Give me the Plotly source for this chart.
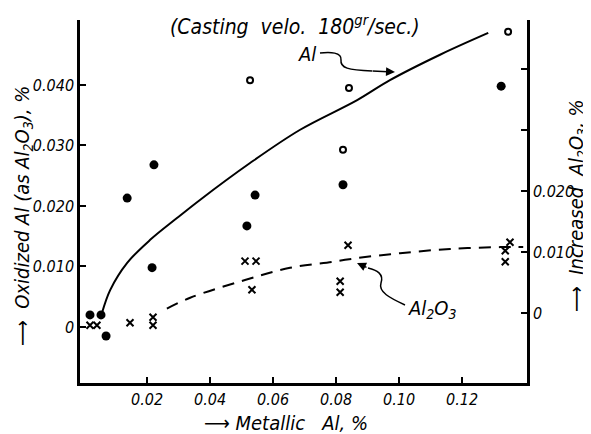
import plotly.graph_objects as go

# ---- data ----
al_x = [0.0019, 0.0054, 0.0070, 0.0137, 0.0222, 0.0216, 0.0543, 0.0517, 0.0822, 0.1327, 0.1324]
al_y = [0.0020, 0.0020, -0.0015, 0.0213, 0.0268, 0.0098, 0.0218, 0.0167, 0.0235, 0.0509, 0.0398]

al_open_x = [0.0527, 0.0841, 0.0822, 0.1346]
al_open_y = [0.0408, 0.0395, 0.0293, 0.0488]

ox_x = [0.0019, 0.0041, 0.0146, 0.0219, 0.0219, 0.0511, 0.0546, 0.0533, 0.0838, 0.0813, 0.0813, 0.1352, 0.1337, 0.1337]
ox_y = [-0.0020, -0.0020, -0.0016, -0.0007, -0.0020, 0.0085, 0.0085, 0.0038, 0.0111, 0.0052, 0.0034, 0.0116, 0.0102, 0.0084]

al_curve_x = [0.0057, 0.0083, 0.0137, 0.0210, 0.0295, 0.0368, 0.0527, 0.0686, 0.0867, 0.0971, 0.1130, 0.1283]
al_curve_y = [0.0023, 0.0061, 0.0106, 0.0144, 0.0180, 0.0210, 0.0271, 0.0326, 0.0375, 0.0408, 0.0450, 0.0486]

ox_curve_x = [0.0263, 0.0337, 0.0511, 0.0654, 0.0790, 0.0867, 0.1003, 0.1162, 0.1321, 0.1394]
ox_curve_y = [0.0007, 0.0025, 0.0054, 0.0074, 0.0084, 0.0090, 0.0098, 0.0105, 0.0108, 0.0108]

x_ticks = [0.02, 0.04, 0.06, 0.08, 0.10, 0.12]
x_tick_text = ["0.02", "0.04", "0.06", "0.08", "0.10", "0.12"]
y_ticks = [0, 0.010, 0.020, 0.030, 0.040]
y_tick_text = ["0", "0.010", "0.020", "0.030", "0.040"]
y2_ticks = [0, 0.010, 0.020, 0.030, 0.040]
y2_tick_text = ["0", "0.010", "0.020", "", ""]

FONT = "DejaVu Sans Condensed, Liberation Sans Narrow, DejaVu Sans, sans-serif"
OFF = 8  # page body margin
W, H = 583, 426
L, R, T, B = 72, 64, 12, 51


def px(xp):
    return (xp - OFF - L) / (W - L - R)


def py(yp):
    return (H - B - (yp - OFF)) / (H - T - B)


fig = go.Figure()
fig.add_trace(go.Scatter(x=al_curve_x, y=al_curve_y, mode="lines", line=dict(color="black", width=2, shape="spline"),
                         showlegend=False, hoverinfo="skip"))
fig.add_trace(go.Scatter(x=ox_curve_x, y=ox_curve_y, mode="lines", yaxis="y2",
                         line=dict(color="black", width=2, dash="12px,8px", shape="spline"),
                         showlegend=False, hoverinfo="skip"))
fig.add_trace(go.Scatter(x=al_x, y=al_y, mode="markers", cliponaxis=False,
                         marker=dict(symbol="circle", size=9, color="black"), showlegend=False))
fig.add_trace(go.Scatter(x=al_open_x, y=al_open_y, mode="markers", cliponaxis=False,
                         marker=dict(symbol="circle-open", size=6, color="black", line=dict(width=2)), showlegend=False))
fig.add_trace(go.Scatter(x=ox_x, y=ox_y, mode="markers", yaxis="y2", cliponaxis=False,
                         marker=dict(symbol="x-thin-open", size=7, color="black", line=dict(width=2, color="black")),
                         showlegend=False))

tickfont = dict(family=FONT, size=16, color="black", style="italic")

fig.update_layout(
    width=W, height=H,
    margin=dict(l=L, r=R, t=T, b=B, pad=0),
    plot_bgcolor="white", paper_bgcolor="white",
    xaxis=dict(range=[-0.00127, 0.1406], tickvals=x_ticks, ticktext=x_tick_text, ticks="inside", ticklen=6,
               tickwidth=1.5, tickcolor="black", showline=True, linecolor="black", linewidth=2.5,
               showgrid=False, zeroline=False, tickfont=tickfont, automargin=False),
    yaxis=dict(range=[-0.00926, 0.05074], tickvals=y_ticks, ticktext=y_tick_text, ticks="inside", ticklen=6,
               tickwidth=1.5, tickcolor="black", showline=True, linecolor="black", linewidth=2.5,
               showgrid=False, zeroline=False, tickfont=tickfont, automargin=False),
    yaxis2=dict(range=[-0.01148, 0.04803], overlaying="y", side="right", tickvals=y2_ticks, ticktext=y2_tick_text,
                ticks="inside", ticklen=6, tickwidth=1.5, tickcolor="black", showline=True, linecolor="black",
                linewidth=2.5, showgrid=False, zeroline=False, tickfont=tickfont, automargin=False),
)


def note(x, y, text, angle=0, size=18):
    fig.add_annotation(xref="paper", yref="paper", x=px(x), y=py(y), showarrow=False, textangle=angle,
                       xanchor="center", yanchor="middle", text=text,
                       font=dict(family=FONT, size=size, color="black", style="italic"))


note(295, 25, "(Casting&nbsp;&nbsp;velo.&nbsp;&nbsp;180<sup>gr</sup>/sec.)", size=21)
note(286, 423, "⟶&nbsp;Metallic&nbsp;&nbsp;&nbsp;Al,&nbsp;%", size=20)
note(23, 216, "⟶&nbsp;&nbsp;Oxidized Al (as Al<sub>2</sub>O<sub>3</sub>), %", angle=-90, size=20)
note(577, 206, "⟶&nbsp;&nbsp;Increased&nbsp;&nbsp;Al<sub>2</sub>O<sub>3</sub>, %", angle=-90, size=20)
note(307, 54, "Al", size=20)
note(432, 309, "Al<sub>2</sub>O<sub>3</sub>", size=20)


# curvy pointer tails
def path(pts):
    s = "M %f,%f" % (px(pts[0][0]), py(pts[0][1]))
    for i in range(1, len(pts), 3):
        a, b, c = pts[i], pts[i + 1], pts[i + 2]
        s += " C %f,%f %f,%f %f,%f" % (px(a[0]), py(a[1]), px(b[0]), py(b[1]), px(c[0]), py(c[1]))
    return s


fig.add_shape(type="path", xref="paper", yref="paper", line=dict(color="black", width=1.5),
              path=path([(320, 53), (330, 52), (342, 52), (341, 60), (340, 68), (348, 70), (372, 71)]))
fig.add_annotation(xref="paper", yref="paper", x=px(395), y=py(72), ax=-24, ay=-1, showarrow=True,
                   arrowhead=2, arrowsize=1.2, arrowwidth=1.5, arrowcolor="black", text="")
fig.add_shape(type="path", xref="paper", yref="paper", line=dict(color="black", width=1.5),
              path=path([(405, 305), (390, 298), (378, 292), (381, 283), (384, 274), (377, 270), (368, 268)]))
fig.add_annotation(xref="paper", yref="paper", x=px(357), y=py(263), ax=11, ay=5, showarrow=True,
                   arrowhead=2, arrowsize=1.2, arrowwidth=1.5, arrowcolor="black", text="")

fig.write_html("out.html")
